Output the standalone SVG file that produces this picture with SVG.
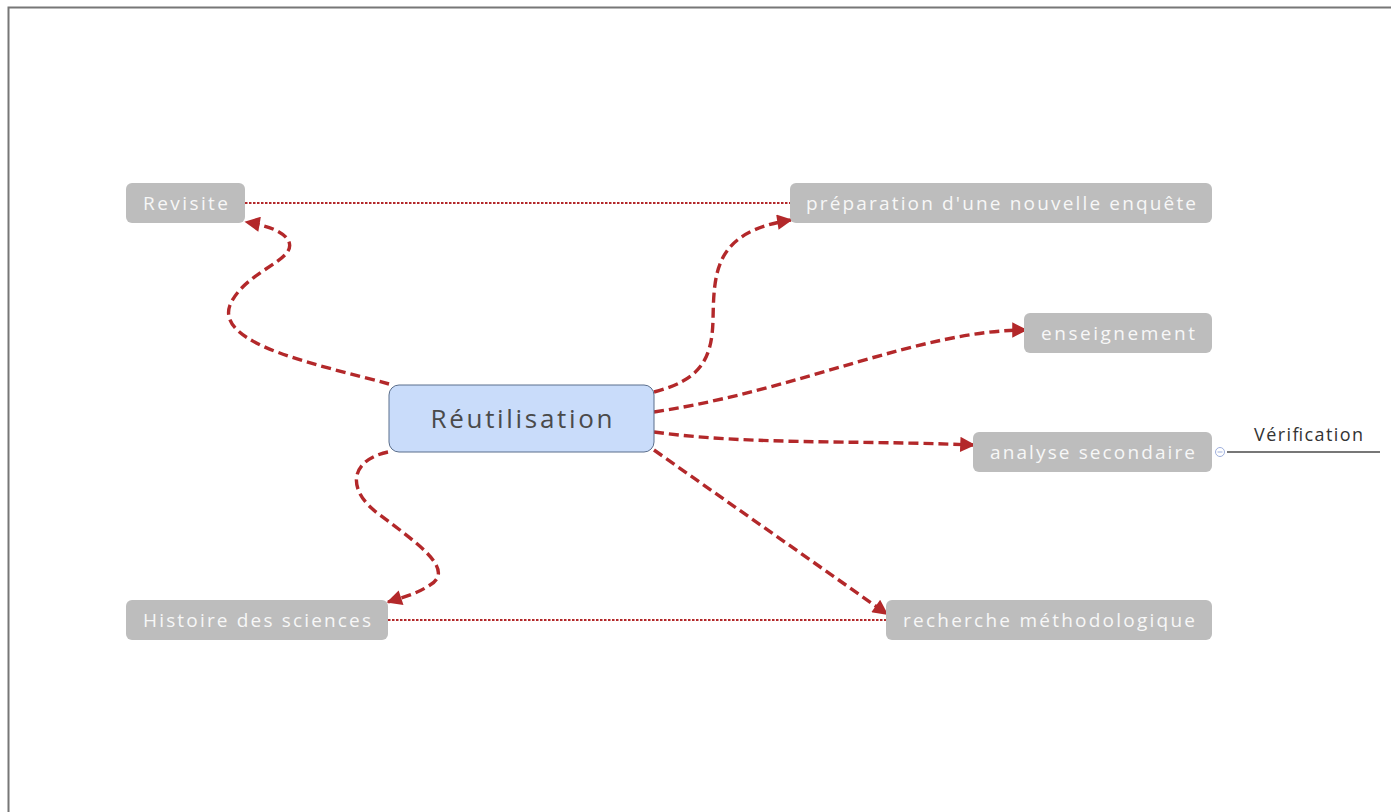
<svg xmlns="http://www.w3.org/2000/svg" width="1391" height="812" viewBox="0 0 1391 812">
<defs>
<marker id="arr" viewBox="0 0 10 10" refX="9" refY="5" markerWidth="5.5" markerHeight="4.5" markerUnits="strokeWidth" orient="auto">
<path d="M0,0 L10,5 L0,10 z" fill="#b3282a"/>
</marker>
<style>
.leaf rect{fill:#bdbdbd;}
.leaf text{font-family:"Open Sans","DejaVu Sans",sans-serif;font-size:19px;fill:#f7f7f7;}
.conn{fill:none;stroke:#b3282a;stroke-width:3.4;stroke-dasharray:10 5;}
.dot{fill:none;stroke:#b3282a;stroke-width:2;stroke-dasharray:2.5 1.5;}
</style>
</defs>
<rect x="0" y="0" width="1391" height="812" fill="#ffffff"/>
<path d="M8.5,812 L8.5,7.5 L1391,7.5" fill="none" stroke="#777" stroke-width="2"/>

<g id="connectors">
<path class="dot" d="M245,203 L790,203"/>
<path class="dot" d="M388,620 L886,620"/>
<path class="conn" marker-end="url(#arr)" d="M389,384 C320,365 215,345 230,305 C245,270 300,260 288,240 C283,232 270,226 246,222"/>
<path class="conn" marker-end="url(#arr)" d="M654,392 C700,380 712,360 713,320 C714,270 715,232 791,220"/>
<path class="conn" marker-end="url(#arr)" d="M654,412 C800,390 920,330 1026,330"/>
<path class="conn" marker-end="url(#arr)" d="M654,432 C750,445 850,440 974,445"/>
<path class="conn" marker-end="url(#arr)" d="M654,450 L887,614"/>
<path class="conn" marker-end="url(#arr)" d="M388,452 C350,460 345,490 380,515 C420,545 455,570 430,585 C415,595 400,598 388,602"/>
<path d="M1227,452 L1380,452" fill="none" stroke="#777" stroke-width="2"/>
</g>

<g id="center">
<rect x="389" y="385" width="265" height="67" rx="10" fill="#c9dcfa" stroke="#5a6e8c" stroke-width="1"/>
<text x="521.5" y="428" text-anchor="middle" font-family="Open Sans, DejaVu Sans, sans-serif" font-size="26" fill="#4a4a4a" textLength="182" lengthAdjust="spacing">Réutilisation</text>
</g>

<g id="revisite" class="leaf">
<rect x="126" y="183" width="119" height="40" rx="6"/>
<text x="185.5" y="210" text-anchor="middle" textLength="85" lengthAdjust="spacing">Revisite</text>
</g>

<g id="preparation" class="leaf">
<rect x="790" y="183" width="422" height="40" rx="6"/>
<text x="1001" y="210" text-anchor="middle" textLength="390" lengthAdjust="spacing">préparation d'une nouvelle enquête</text>
</g>

<g id="enseignement" class="leaf">
<rect x="1024" y="313" width="188" height="40" rx="6"/>
<text x="1118" y="340" text-anchor="middle" textLength="154" lengthAdjust="spacing">enseignement</text>
</g>

<g id="analyse" class="leaf">
<rect x="973" y="432" width="239" height="40" rx="6"/>
<text x="1092.5" y="459" text-anchor="middle" textLength="205" lengthAdjust="spacing">analyse secondaire</text>
</g>

<g id="recherche" class="leaf">
<rect x="886" y="600" width="326" height="40" rx="6"/>
<text x="1049" y="627" text-anchor="middle" textLength="292" lengthAdjust="spacing">recherche méthodologique</text>
</g>

<g id="histoire" class="leaf">
<rect x="126" y="600" width="262" height="40" rx="6"/>
<text x="257" y="627" text-anchor="middle" textLength="228" lengthAdjust="spacing">Histoire des sciences</text>
</g>

<g id="verification">
<circle cx="1220" cy="452" r="4.5" fill="#ffffff" stroke="#9fb0dd" stroke-width="1"/>
<path d="M1217.5,452 L1222.5,452" stroke="#9fb0dd" stroke-width="1"/>
<text x="1308.5" y="441" text-anchor="middle" font-family="Open Sans, DejaVu Sans, sans-serif" font-size="18" fill="#333333" textLength="109" lengthAdjust="spacing">Vérification</text>
</g>
</svg>
